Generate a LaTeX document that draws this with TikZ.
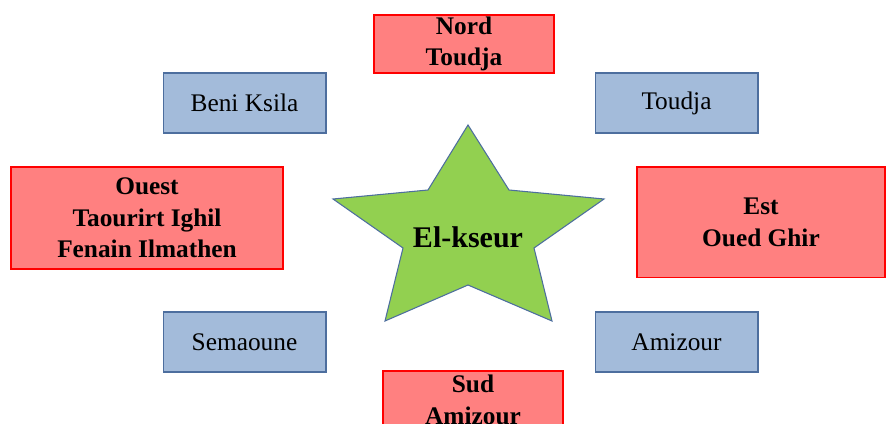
\documentclass[tikz,border=0pt]{standalone}
\usepackage{fontspec}
\setmainfont{Liberation Serif}
\definecolor{boxred}{RGB}{255,128,128}
\definecolor{boxblue}{RGB}{163,187,218}
\definecolor{edgeblue}{RGB}{77,110,158}
\definecolor{stargreen}{RGB}{146,208,80}
\tikzset{
    redbox/.style={draw=red, fill=boxred, line width=1pt, align=center, inner sep=0pt,
        font=\fontsize{19}{23.6}\selectfont\bfseries},
    bluebox/.style={draw=edgeblue, fill=boxblue, line width=1pt, inner sep=0pt,
        minimum width=122pt, minimum height=45pt, font=\fontsize{19}{23.6}\selectfont}
}

\begin{document}
\begin{tikzpicture}[x=0.75pt, y=-0.75pt]
    \useasboundingbox(0, 0) rectangle (886, 424);
    % centre star
    \draw[edgeblue, fill=stargreen, line width=0.8pt](468, 125)--(509, 190)--(604, 199)--(534, 248)--(552, 321)
        --(468, 285)--(385, 321)--(403, 248)--(333, 199)--(428, 190)--cycle;
    \node[font=\fontsize{22.5}{27}\selectfont\bfseries](elkseur)at(468, 237){El-kseur};
    % cardinal directions
    \node[redbox, minimum width=135pt, minimum height=43.5pt](nord)at(464, 44){Nord\\Toudja};
    \node[redbox, minimum width=135pt, minimum height=43.5pt](sud)at(473, 400){Sud\\Amizour};
    \node[redbox, minimum width=204pt, minimum height=76.5pt](ouest)at(147, 218){Ouest\\Taourirt Ighil\\Fenain Ilmathen};
    \node[redbox, minimum width=186pt, minimum height=83pt](est)at(761, 222.5){Est\\Oued Ghir};
    % neighbouring communes
    \node[bluebox](beniksila)at(244.5, 103){Beni Ksila};
    \node[bluebox](toudja)at(676.5, 103){Toudja};
    \node[bluebox](semaoune)at(244.5, 342){Semaoune};
    \node[bluebox](amizour)at(676.5, 342){Amizour};
\end{tikzpicture}
\end{document}
